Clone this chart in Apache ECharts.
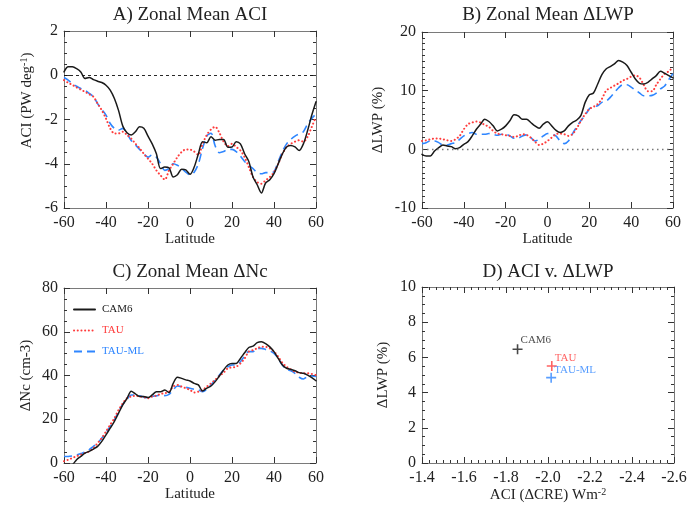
<!DOCTYPE html>
<html>
<head>
<meta charset="utf-8">
<script src="https://cdn.jsdelivr.net/npm/echarts@6/dist/echarts.min.js"></script>
<style>
  html, body { margin: 0; padding: 0; background: #ffffff; }
  #chart { width: 694px; height: 506px; }
</style>
</head>
<body>
<div id="chart"></div>
<script>
// Latitude grid (degrees) shared by the zonal-mean panels
const latitudes = [-60,-58,-56,-54,-52,-50,-48,-46,-44,-42,-40,-38,-36,-34,-32,-30,-28,-26,-24,-22,-20,
  -18,-16,-14,-12,-10,-8,-6,-4,-2,0,2,4,6,8,10,12,14,16,18,20,22,24,26,28,30,32,34,36,38,40,
  42,44,46,48,50,52,54,56,58,60];

const modelNames = ['CAM6', 'TAU', 'TAU-ML'];

// A) Zonal mean ACI (PW deg^-1)
const aciCam6 = [0.15,0.38,0.38,0.3,0.15,-0.15,-0.1,-0.2,-0.27,-0.33,-0.45,-0.67,-1.05,-1.6,-2.3,-2.6,-2.7,-2.55,-2.33,-2.4,-2.75,
  -3.1,-3.55,-4.22,-4.15,-4.18,-4.6,-4.5,-4.25,-4.28,-4.48,-4.15,-3.55,-3.0,-3.05,-2.78,-2.94,-2.9,-2.9,-3.25,-3.24,
  -3.0,-3.1,-3.55,-3.9,-4.6,-4.95,-5.32,-4.87,-4.72,-4.45,-4.0,-3.55,-3.24,-3.17,-3.24,-3.4,-3.1,-2.5,-1.8,-1.2];
const aciTau = [-0.22,-0.34,-0.44,-0.55,-0.65,-0.75,-0.86,-0.97,-1.28,-1.58,-1.96,-2.4,-2.63,-2.63,-2.55,-2.7,-2.86,-3.09,-3.3,-3.55,-3.77,
  -4.0,-4.3,-4.53,-4.72,-4.3,-4.0,-3.7,-3.47,-3.35,-3.36,-3.45,-3.6,-3.1,-2.7,-2.45,-2.33,-2.6,-3.0,-3.2,-3.1,
  -3.24,-3.4,-3.7,-4.15,-4.6,-4.83,-4.9,-4.75,-4.6,-4.38,-4.0,-3.55,-3.24,-3.1,-3.0,-2.94,-3.0,-2.78,-2.33,-1.88];
const aciTauMl = [-0.1,-0.22,-0.38,-0.5,-0.6,-0.68,-0.82,-0.97,-1.28,-1.55,-1.8,-2.18,-2.4,-2.48,-2.4,-2.63,-2.95,-3.15,-3.35,-3.55,-3.7,
  -3.6,-3.7,-4.0,-4.3,-4.22,-4.0,-4.07,-4.2,-4.38,-4.5,-4.38,-4.0,-3.3,-2.75,-2.62,-3.2,-3.5,-3.45,-3.35,-3.35,
  -3.45,-3.65,-3.9,-4.07,-4.22,-4.4,-4.45,-4.4,-4.4,-4.36,-3.9,-3.45,-3.1,-2.9,-2.75,-2.65,-2.55,-2.2,-1.95,-1.75];

// B) Zonal mean change in liquid water path (%)
const lwpCam6 = [-0.86,-1.14,-1.14,-0.29,0.29,0.74,0.57,0.46,0.11,0.29,0.86,1.31,2.29,3.43,4.29,5.14,4.74,4.0,3.14,3.43,4.0,
  4.86,5.89,5.71,5.14,5.14,4.57,4.0,3.6,4.29,4.69,4.0,3.26,2.86,3.14,4.0,4.6,5.0,5.8,8.0,9.3,
  9.6,11.14,12.74,13.7,14.1,14.57,15.14,14.86,14.29,13.14,12.0,11.26,11.14,11.43,12.0,12.57,13.31,12.97,12.57,12.17];
const lwpTau = [1.43,1.54,1.71,1.83,1.83,1.71,1.54,1.43,1.71,2.29,3.43,4.29,4.57,4.74,4.57,4.17,3.83,3.14,2.69,2.57,2.4,
  2.29,2.11,2.29,2.57,2.46,2.0,1.31,0.74,0.97,1.43,2.0,2.57,2.69,2.57,2.29,2.6,3.6,4.86,6.0,6.86,
  7.26,7.71,8.6,10.0,10.46,10.86,11.26,11.71,12.0,12.4,12.6,12.2,11.0,9.9,9.9,11.0,12.0,12.86,13.31,14.0];
const lwpTauMl = [0.97,1.14,1.43,1.43,1.14,0.74,0.74,0.97,1.14,1.71,2.29,2.69,2.86,2.57,2.57,2.57,2.69,2.57,2.4,2.57,2.57,
  2.29,1.89,1.89,2.29,2.46,2.0,1.43,1.71,2.29,2.69,2.57,2.29,1.43,0.97,1.43,2.69,3.83,4.9,5.8,6.9,
  7.3,7.43,8.0,8.2,8.86,9.7,10.5,11.0,11.0,10.6,10.1,9.6,9.14,9.14,9.2,9.6,10.3,10.8,11.9,12.9];

// C) Zonal mean change in droplet number (cm-3)
const ncCam6 = [-3.0,-2.0,-0.8,1.5,3.0,4.5,5.3,6.4,7.6,9.9,12.9,15.9,19.0,22.8,26.6,29.5,32.8,31.6,30.4,30.4,29.9,
  31.1,32.6,32.6,33.4,32.2,36.4,39.2,38.7,38.0,37.5,36.4,35.7,32.9,34.2,35.2,37.2,39.8,42.5,44.8,45.5,
  45.5,47.8,50.4,52.8,53.4,55.0,55.4,54.6,53.1,50.9,47.8,44.8,43.3,42.8,42.2,41.3,41.0,40.2,39.0,37.6];
const ncTau = [0.8,1.5,2.3,3.1,3.8,4.6,5.3,6.8,9.1,11.4,14.4,17.5,20.5,24.3,27.3,29.6,30.4,30.7,30.4,30.1,29.6,
  30.4,30.8,31.6,31.9,32.6,34.9,35.7,34.9,34.2,33.4,32.2,32.6,33.4,34.9,36.4,38.0,39.8,41.3,43.3,43.7,
  44.0,45.5,47.8,50.9,51.6,52.4,53.1,53.1,52.4,50.9,48.6,45.8,44.0,42.8,41.7,41.3,41.0,41.0,40.7,40.2];
const ncTauMl = [3.0,3.0,3.2,3.6,4.3,5.0,6.1,7.6,9.1,11.4,14.0,16.7,19.7,23.5,26.9,29.1,31.1,31.1,30.7,30.1,29.6,
  30.4,30.7,31.1,30.8,31.4,33.4,35.2,34.9,34.6,34.2,33.7,33.4,32.6,33.7,35.7,38.0,40.2,42.5,44.0,44.8,
  44.8,46.3,48.9,50.9,50.9,52.4,52.4,51.9,51.3,50.1,47.8,44.8,42.8,42.2,41.0,39.2,38.4,39.5,39.8,39.5];

// D) Global ACI (ΔCRE, W m^-2) against global ΔLWP (%)
const globalAci = [-1.855, -2.018, -2.015];
const globalLwp = [6.46, 5.51, 4.85];

// ---------------------------------------------------------------------
const SERIF = '"Liberation Serif", "Times New Roman", serif';
const modelColors = ['#1a1a1a', '#ff3b3b', '#2f86ff'];
const modelLines = [
  { color: modelColors[0], width: 1.5, type: 'solid', cap: 'round' },
  { color: modelColors[1], width: 2, type: [0.1, 3.6], cap: 'round' },
  { color: modelColors[2], width: 1.6, type: [8, 5], cap: 'butt' }
];

const grids = [
  { left: 64,  top: 31,  width: 252, height: 177 },
  { left: 422, top: 32,  width: 251, height: 176 },
  { left: 64,  top: 288, width: 252, height: 175 },
  { left: 422, top: 287, width: 252, height: 176 }
].map(g => Object.assign({ show: false }, g));

const frameLine = { color: '#7a7a7a', width: 1 };
const tickLine = { color: '#333333', width: 1 };

function makeAxisPair(kind, gridIndex, cfg) {
  const main = {
    type: 'value',
    gridIndex: gridIndex,
    position: kind === 'x' ? 'bottom' : 'left',
    min: cfg.min, max: cfg.max, interval: cfg.interval,
    inverse: !!cfg.inverse,
    axisLine: { show: true, onZero: false, lineStyle: frameLine },
    axisTick: { show: true, inside: true, length: 6, lineStyle: tickLine },
    minorTick: { show: !!cfg.minor, splitNumber: cfg.minor || 5, length: 3, lineStyle: tickLine },
    splitLine: { show: false },
    axisLabel: {
      show: true,
      margin: kind === 'x' ? 7 : 6,
      color: '#222222',
      fontFamily: SERIF,
      fontSize: 16,
      formatter: cfg.formatter || (v => String(v))
    },
    name: cfg.name,
    nameLocation: 'middle',
    nameGap: cfg.nameGap,
    nameRotate: kind === 'y' ? 90 : 0,
    nameTextStyle: Object.assign({
      color: '#222222', fontFamily: SERIF, fontSize: 15,
      rich: {
        sup: { fontFamily: SERIF, fontSize: 10, color: '#222222', verticalAlign: 'top', padding: [0, 0, 7, 0] }
      }
    }, cfg.nameStyle || {})
  };
  const mirror = Object.assign({}, main, {
    position: kind === 'x' ? 'top' : 'right',
    axisLabel: { show: false },
    name: ''
  });
  return [main, mirror];
}

const xAxes = [].concat(
  makeAxisPair('x', 0, { min: -60, max: 60, interval: 20, name: 'Latitude', nameGap: 22 }),
  makeAxisPair('x', 1, { min: -60, max: 60, interval: 20, name: 'Latitude', nameGap: 22 }),
  makeAxisPair('x', 2, { min: -60, max: 60, interval: 20, name: 'Latitude', nameGap: 22 }),
  makeAxisPair('x', 3, { min: -2.6, max: -1.4, interval: 0.2, inverse: true, minor: 6,
    formatter: v => v.toFixed(1), name: 'ACI (\u0394CRE) Wm{sup|-2}', nameGap: 22 })
);
const yAxes = [].concat(
  makeAxisPair('y', 0, { min: -6, max: 2, interval: 2, minor: 4, name: 'ACI (PW deg{sup|-1})', nameGap: 28,
    nameStyle: { padding: [0, 0, 0, 38] } }),
  makeAxisPair('y', 1, { min: -10, max: 20, interval: 10, minor: 10, name: '\u0394LWP (%)', nameGap: 36 }),
  makeAxisPair('y', 2, { min: 0, max: 80, interval: 20, minor: 4, name: '\u0394Nc (cm-3)', nameGap: 30 }),
  makeAxisPair('y', 3, { min: 0, max: 10, interval: 2, minor: 4, name: '\u0394LWP (%)', nameGap: 31 })
);

function pairs(values) {
  return latitudes.map((lat, i) => [lat, values[i]]);
}

function zeroLine(color, type, width) {
  return {
    silent: true, symbol: ['none', 'none'], animation: false,
    label: { show: false },
    lineStyle: { color: color, type: type, width: width },
    data: [{ yAxis: 0 }]
  };
}

const panelData = [
  [aciCam6, aciTau, aciTauMl],
  [lwpCam6, lwpTau, lwpTauMl],
  [ncCam6, ncTau, ncTauMl]
];

const series = [];
panelData.forEach((set, p) => {
  set.forEach((vals, m) => {
    const s = {
      type: 'line',
      name: modelNames[m],
      xAxisIndex: 2 * p,
      yAxisIndex: 2 * p,
      data: pairs(vals),
      symbol: 'none',
      showSymbol: false,
      smooth: 0.3,
      clip: true,
      lineStyle: Object.assign({}, modelLines[m]),
      itemStyle: { color: modelColors[m] },
      z: 3 - m
    };
    if (m === 0 && p === 0) s.markLine = zeroLine('#111111', [3, 3], 0.9);
    if (m === 0 && p === 1) s.markLine = zeroLine('#777777', [1.5, 3.5], 1.3);
    series.push(s);
  });
});

// Plus markers for the global values in panel D
const plusPath = 'path://M4.2,0h1.6v10h-1.6z M0,4.2h10v1.6h-10z';
const labelOffsets = [[-7, -9], [-7, -8], [-7, -8]];
modelNames.forEach((name, m) => {
  series.push({
    type: 'scatter',
    name: name,
    xAxisIndex: 6,
    yAxisIndex: 6,
    data: [[globalAci[m], globalLwp[m]]],
    symbol: plusPath,
    symbolSize: 10,
    itemStyle: { color: modelColors[m] },
    label: {
      show: true,
      formatter: name,
      position: 'right',
      distance: 5,
      offset: labelOffsets[m],
      color: modelColors[m],
      fontFamily: SERIF,
      fontSize: 11
    },
    z: 5
  });
});

const titleStyle = { fontFamily: SERIF, fontSize: 19, fontWeight: 'normal', color: '#222222' };
const titles = [
  { text: 'A) Zonal Mean ACI', left: 190, top: 6 },
  { text: 'B) Zonal Mean \u0394LWP', left: 548, top: 6 },
  { text: 'C) Zonal Mean \u0394Nc', left: 190, top: 263 },
  { text: 'D) ACI v. \u0394LWP', left: 548, top: 263 }
].map(t => Object.assign({ textAlign: 'center', padding: 0, textStyle: titleStyle }, t));

const chart = echarts.init(document.getElementById('chart'), null, { renderer: 'canvas' });
chart.setOption({
  animation: false,
  backgroundColor: '#ffffff',
  title: titles,
  legend: {
    show: true,
    orient: 'vertical',
    left: 68,
    top: 299,
    itemWidth: 21,
    itemHeight: 12,
    itemGap: 10,
    selectedMode: false,
    itemStyle: { opacity: 0 },
    data: modelNames.map((n, m) => ({ name: n, textStyle: { color: modelColors[m] } })),
    textStyle: { fontFamily: SERIF, fontSize: 11, padding: [0, 0, 0, 2] }
  },
  grid: grids,
  xAxis: xAxes,
  yAxis: yAxes,
  series: series
});
</script>
</body>
</html>
